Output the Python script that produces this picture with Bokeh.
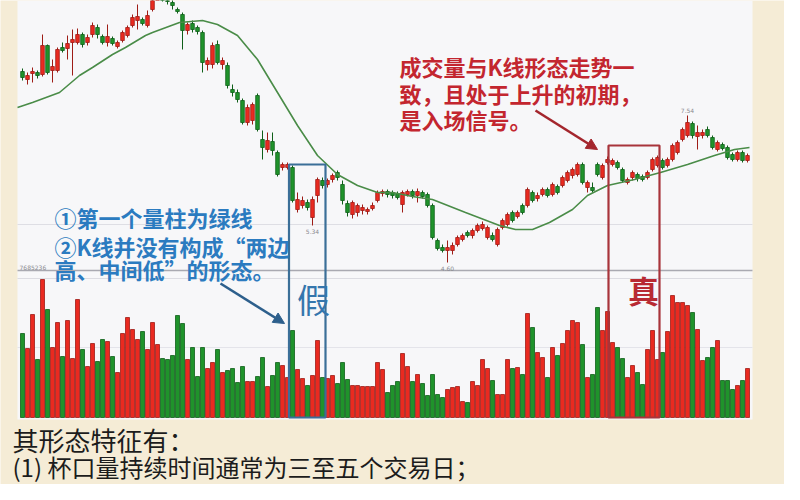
from bokeh.plotting import figure
from bokeh.models import Range1d, ColumnDataSource, BoxAnnotation, Arrow, NormalHead, Label
from bokeh.embed import file_html
from bokeh.resources import INLINE

# ---------------- data ----------------
opens = [8.42, 8.26, 8.38, 8.40, 8.36, 8.94, 8.44, 8.44, 8.90, 8.88,
         9.00, 9.00, 9.16, 9.00, 9.16, 9.30, 9.12, 9.00, 9.08, 8.92,
         9.04, 9.14, 9.34, 9.44, 9.46, 9.34, 9.66, 9.90, 9.90, 9.86,
         9.80, 9.66, 9.56, 9.24, 9.38, 9.30, 9.20, 8.56, 8.56, 8.96,
         8.56, 8.54, 8.06, 8.00, 7.84, 7.40, 7.44, 7.94, 7.06, 6.86,
         7.02, 6.80, 6.50, 6.50, 6.50, 5.66, 5.74, 5.80, 5.50, 5.94,
         6.24, 6.16, 6.26, 6.40, 6.16, 5.78, 5.56, 5.60, 5.64, 5.62,
         5.68, 5.84, 5.98, 6.02, 6.00, 5.98, 5.76, 5.96, 6.02, 5.94,
         6.00, 5.96, 5.74, 5.04, 4.90, 4.84, 4.84, 4.96, 5.06, 5.20,
         5.14, 5.24, 5.28, 5.10, 5.14, 4.96, 5.30, 5.36, 5.60, 5.52,
         5.74, 5.74, 6.00, 5.88, 5.96, 6.06, 5.96, 6.12, 6.14, 6.24,
         6.34, 6.36, 6.56, 6.10, 6.10, 6.56, 6.30, 6.60, 6.56, 6.60,
         6.46, 6.20, 6.30, 6.36, 6.32, 6.30, 6.46, 6.54, 6.64, 6.54,
         6.66, 6.80, 7.06, 7.14, 7.38, 7.12, 7.14, 7.26, 7.10, 6.86,
         6.96, 6.90, 6.76, 6.66, 6.80, 6.64]
highs = [8.48, 8.40, 8.50, 8.44, 9.16, 8.96, 8.66, 8.90, 9.00, 9.14,
         9.26, 9.28, 9.20, 9.16, 9.40, 9.36, 9.16, 9.36, 9.12, 9.04,
         9.24, 9.34, 9.56, 9.76, 9.50, 9.64, 9.90, 10.00, 9.94, 9.92,
         10.00, 9.70, 9.60, 9.40, 9.44, 9.34, 9.24, 8.70, 9.00, 9.04,
         8.70, 8.60, 8.16, 8.06, 7.88, 7.76, 7.80, 7.98, 7.24, 7.20,
         7.20, 6.84, 6.60, 6.60, 6.54, 6.00, 5.92, 5.86, 5.92, 6.30,
         6.30, 6.28, 6.38, 6.44, 6.24, 5.84, 5.84, 5.78, 5.76, 5.70,
         5.80, 6.04, 6.06, 6.06, 6.04, 6.02, 6.04, 6.06, 6.06, 6.08,
         6.04, 6.00, 5.78, 5.08, 4.96, 5.04, 5.00, 5.14, 5.18, 5.24,
         5.28, 5.38, 5.42, 5.34, 5.20, 5.30, 5.48, 5.60, 5.64, 5.64,
         5.78, 6.10, 6.04, 6.00, 6.10, 6.10, 6.20, 6.16, 6.34, 6.44,
         6.50, 6.60, 6.60, 6.24, 6.20, 6.60, 6.58, 6.72, 6.68, 6.64,
         6.50, 6.30, 6.44, 6.40, 6.36, 6.44, 6.70, 6.74, 6.68, 6.70,
         6.98, 7.04, 7.30, 7.54, 7.42, 7.34, 7.26, 7.32, 7.14, 7.04,
         7.00, 6.94, 6.80, 6.84, 6.84, 6.78]
lows = [8.24, 8.16, 8.20, 8.28, 8.32, 8.36, 8.20, 8.40, 8.80, 8.66,
        8.34, 8.96, 8.90, 8.94, 9.10, 9.08, 8.96, 8.92, 8.94, 8.88,
        9.00, 9.10, 9.30, 9.26, 9.34, 9.30, 9.62, 9.86, 9.82, 9.76,
        9.66, 9.58, 8.86, 9.16, 9.20, 9.16, 8.40, 8.44, 8.48, 8.56,
        8.46, 8.08, 7.92, 7.80, 7.36, 7.34, 7.36, 7.22, 6.66, 6.80,
        6.74, 6.32, 6.44, 6.46, 5.80, 5.60, 5.68, 5.64, 5.34, 5.80,
        6.08, 6.10, 6.20, 6.24, 5.76, 5.52, 5.48, 5.52, 5.56, 5.56,
        5.64, 5.80, 5.92, 5.90, 5.88, 5.86, 5.60, 5.92, 5.88, 5.80,
        5.88, 5.70, 5.06, 4.84, 4.80, 4.60, 4.76, 4.92, 5.02, 5.10,
        5.08, 5.20, 5.24, 5.06, 5.02, 4.92, 5.26, 5.32, 5.40, 5.48,
        5.56, 5.70, 5.80, 5.82, 5.92, 5.90, 5.92, 5.96, 6.10, 6.20,
        6.28, 6.32, 6.16, 6.00, 6.00, 6.32, 6.26, 6.56, 6.52, 6.46,
        6.20, 6.16, 6.24, 6.22, 6.22, 6.26, 6.42, 6.50, 6.46, 6.50,
        6.62, 6.76, 7.02, 7.10, 7.08, 6.86, 7.08, 7.10, 6.86, 6.82,
        6.84, 6.66, 6.62, 6.62, 6.60, 6.60]
closes = [8.30, 8.34, 8.42, 8.34, 8.94, 8.40, 8.52, 8.86, 8.84, 8.98,
          9.06, 9.16, 8.96, 9.10, 9.34, 9.16, 9.00, 9.12, 8.98, 9.00,
          9.20, 9.30, 9.50, 9.52, 9.38, 9.54, 9.86, 9.96, 9.86, 9.82,
          9.74, 9.62, 9.24, 9.36, 9.26, 9.22, 8.60, 8.64, 8.94, 8.60,
          8.64, 8.14, 8.00, 7.86, 7.40, 7.70, 7.76, 7.26, 6.90, 7.04,
          6.84, 6.36, 6.56, 6.56, 5.84, 5.86, 5.84, 5.70, 5.86, 6.26,
          6.14, 6.24, 6.34, 6.30, 5.84, 5.60, 5.80, 5.74, 5.70, 5.66,
          5.74, 6.00, 6.02, 5.96, 5.94, 5.90, 6.00, 6.02, 5.94, 6.02,
          5.92, 5.74, 5.10, 4.88, 4.84, 4.90, 4.94, 5.10, 5.14, 5.14,
          5.24, 5.34, 5.36, 5.30, 5.06, 5.26, 5.44, 5.56, 5.44, 5.60,
          5.60, 6.06, 5.84, 5.94, 6.06, 5.94, 6.16, 6.00, 6.30, 6.40,
          6.46, 6.56, 6.20, 6.20, 6.04, 6.36, 6.54, 6.66, 6.64, 6.50,
          6.24, 6.26, 6.40, 6.28, 6.26, 6.40, 6.66, 6.70, 6.50, 6.66,
          6.94, 7.00, 7.26, 7.40, 7.14, 7.20, 7.20, 7.14, 6.90, 7.00,
          6.88, 6.70, 6.66, 6.80, 6.64, 6.74]
volumes = [84, 69, 103, 58, 138, 108, 70, 95, 61, 97,
           59, 118, 68, 51, 74, 56, 78, 76, 61, 45,
           84, 100, 88, 78, 86, 68, 95, 73, 59, 58,
           62, 102, 94, 58, 70, 41, 70, 49, 55, 68,
           45, 47, 49, 35, 51, 36, 36, 41, 60, 31,
           42, 55, 52, 40, 87, 48, 39, 32, 42, 77,
           40, 39, 42, 34, 55, 38, 32, 32, 31, 31,
           31, 55, 48, 25, 32, 36, 64, 51, 36, 43,
           34, 22, 43, 23, 20, 28, 30, 31, 16, 15,
           36, 32, 58, 49, 37, 23, 23, 58, 49, 50,
           43, 104, 90, 65, 60, 40, 70, 62, 74, 87,
           97, 95, 73, 40, 43, 110, 87, 106, 75, 70,
           59, 40, 52, 45, 33, 68, 87, 58, 65, 86,
           122, 115, 115, 112, 105, 88, 57, 60, 70, 77,
           37, 37, 28, 32, 37, 49]
# moving average line, read at sample positions (bar index, price)
ma_x = [-1, 2, 7.4, 11.4, 14, 18, 20.6, 24.6, 26, 31.4, 36, 39, 43, 47, 51, 55, 59,
        63, 67, 71, 74, 78, 82, 88.6, 95.4, 98.6, 102, 105.4, 110, 113, 117,
        122.4, 127.6, 133, 138.4, 142.4, 145.4]
ma_y = [7.70, 7.80, 8.00, 8.34, 8.50, 8.76, 8.90, 9.14, 9.20, 9.40, 9.44, 9.36, 9.14, 8.66, 8.00, 7.34, 6.74,
        6.36, 6.14, 6.00, 6.00, 5.92, 5.86, 5.60, 5.34, 5.26, 5.26, 5.40, 5.66, 5.94, 6.14,
        6.26, 6.40, 6.56, 6.74, 6.86, 6.90]

blue_lines = ["①第一个量柱为绿线", "②K线并没有构成“两边", "高、中间低”的形态。"]
red_lines = ["成交量与K线形态走势一", "致，且处于上升的初期，", "是入场信号。"]
bottom_lines = ["其形态特征有：", "(1) 杯口量持续时间通常为三至五个交易日；"]

# ---------------- styling ----------------
CREAM = "#f5ecd6"
PANEL = "#f7f7f9"
RED = "#ea2a20"
RED_EDGE = "#9e1c16"
GREEN = "#1f932b"
GREEN_EDGE = "#0f5f19"
FONT = "Noto Sans CJK SC"

n = len(opens)
idx = list(range(n))
up = [c >= o for o, c in zip(opens, closes)]
src = ColumnDataSource(dict(
    x=idx, o=opens, h=highs, l=lows, c=closes,
    top=[max(o, c) for o, c in zip(opens, closes)],
    bottom=[min(o, c) for o, c in zip(opens, closes)],
    v=volumes,
    color=[RED if u else GREEN for u in up],
    edge=[RED_EDGE if u else GREEN_EDGE for u in up],
))

# whole canvas is the frame; the chart panel is a white box inside the cream page
p = figure(width=784, height=484, x_range=Range1d(-4.4, 152.4), y_range=Range1d(0.16, 9.84),
           x_axis_type=None, y_axis_type=None, toolbar_location=None, output_backend="svg",
           min_border=0, background_fill_color=CREAM, border_fill_color=CREAM,
           outline_line_color=None)
p.extra_y_ranges = {"vol": Range1d(-67, 417)}

PANEL_L, PANEL_R, PANEL_B, PANEL_T = -1.0, 146.0, 1.46, 9.84
p.add_layout(BoxAnnotation(left=PANEL_L, right=PANEL_R, bottom=PANEL_B, top=PANEL_T,
                           fill_color=PANEL, fill_alpha=1, line_color=None, level="underlay"))

# faint horizontal lines and panel separator (inside the panel only)
p.segment(x0=[PANEL_L] * 3, x1=[PANEL_R] * 3, y0=[5.36, 4.28, 4.44], y1=[5.36, 4.28, 4.44],
          line_color=["#dedee4", "#dcdce2", "#a9a9b1"], line_width=[1, 1, 1.6])
p.segment(x0=[PANEL_L], x1=[PANEL_R], y0=[70], y1=[70], line_color="#e4e4ea", line_width=1,
          y_range_name="vol")

# volume bars
p.vbar(x="x", width=0.8, top="v", bottom=0, fill_color="color", line_color="edge",
       line_width=0.8, y_range_name="vol", source=src)

# candles
p.segment(x0="x", y0="l", x1="x", y1="h", line_color="edge", line_width=1, source=src)
p.vbar(x="x", width=0.72, top="top", bottom="bottom", fill_color="color", line_color="edge",
       line_width=0.8, source=src)

# moving average
p.line(ma_x, ma_y, line_color="#4a8c48", line_width=1.6)

# small grey value tags
lo_fake = min(range(50, 62), key=lambda i: lows[i])
lo_all = min(range(n), key=lambda i: lows[i])
hi_late = max(range(110, n), key=lambda i: highs[i])
for i, yv, base in [(lo_fake, lows[lo_fake], "top"), (lo_all, lows[lo_all], "top"),
                    (hi_late, highs[hi_late], "bottom")]:
    p.add_layout(Label(x=i, y=yv - 0.06 if base == "top" else yv + 0.06, text=f"{yv:.2f}",
                       text_font_size="6px", text_color="#8a8a90", text_align="center",
                       text_baseline=base, text_font="DejaVu Sans"))
p.add_layout(Label(x=-0.6, y=4.46, text="7685236", text_font_size="6px", text_color="#8a8a90",
                   text_baseline="bottom", text_font="DejaVu Sans"))

# boxes
p.add_layout(BoxAnnotation(left=53.3, right=60.6, top=6.56, bottom=1.50, fill_alpha=0,
                           line_color="#3b6f98", line_width=2.2, line_alpha=1))
p.add_layout(BoxAnnotation(left=117.2, right=127.4, top=6.94, bottom=1.50, fill_alpha=0,
                           line_color="#a8343b", line_width=2.2, line_alpha=1))

# arrows
p.add_layout(Arrow(end=NormalHead(size=11, fill_color="#2d5f8c", line_color="#2d5f8c"),
                   x_start=39.6, y_start=4.18, x_end=52.4, y_end=3.38,
                   line_color="#2d5f8c", line_width=2.6))
p.add_layout(Arrow(end=NormalHead(size=11, fill_color="#a4262d", line_color="#a4262d"),
                   x_start=102.6, y_start=7.64, x_end=115.0, y_end=6.86,
                   line_color="#a4262d", line_width=2.6))

# blue annotation text
for t, yv in zip(blue_lines, [5.52, 4.93, 4.47]):
    p.add_layout(Label(x=6.4, y=yv, text=t, text_font=FONT, text_font_size="22px",
                       text_font_style="bold", text_color="#2b7bc0", text_baseline="middle"))
# red annotation text
for t, yv in zip(red_lines, [8.54, 7.99, 7.47]):
    p.add_layout(Label(x=75.4, y=yv, text=t, text_font=FONT, text_font_size="22px",
                       text_font_style="bold", text_color="#c3262f", text_baseline="middle"))

p.add_layout(Label(x=58.2, y=3.88, text="假", text_font=FONT, text_font_size="33px",
                   text_color="#3576ad", text_align="center", text_baseline="middle"))
p.add_layout(Label(x=124.2, y=4.06, text="真", text_font=FONT, text_font_size="31px",
                   text_font_style="bold", text_color="#b82a33", text_align="center",
                   text_baseline="middle"))

# bottom explanatory text (second line kept fully inside the page)
for t, yv, fs in zip(bottom_lines, [1.06, 0.52], ["26px", "24px"]):
    p.add_layout(Label(x=-2.0, y=yv, text=t, text_font=FONT, text_font_size=fs,
                       text_color="#1c1c1c", text_baseline="middle"))

open("out.html", "w").write(file_html(p, INLINE))
